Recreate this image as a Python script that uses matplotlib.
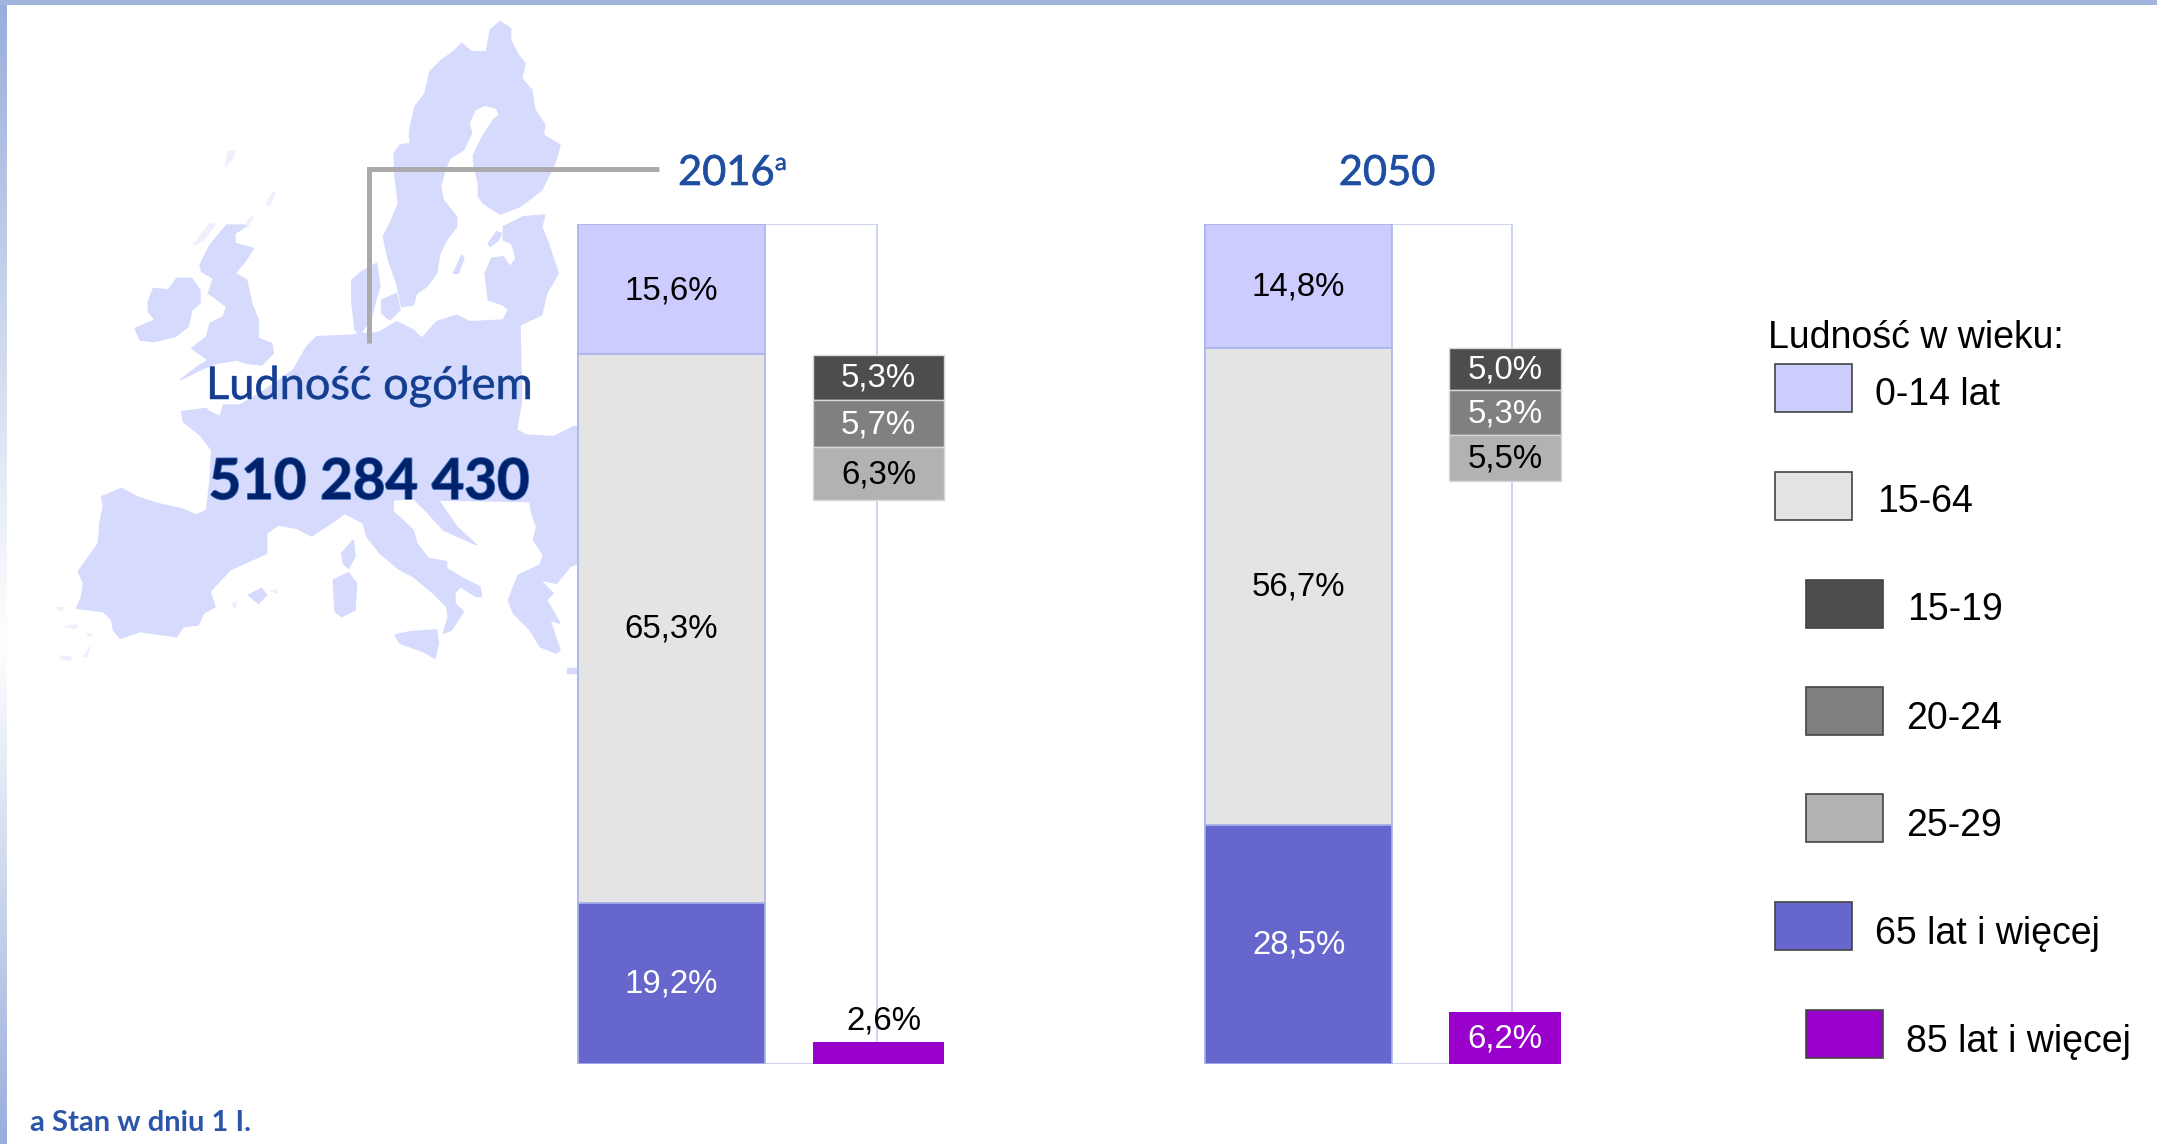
import numpy as np
import matplotlib
matplotlib.use("Agg")
from matplotlib import pyplot as plt
from matplotlib import patheffects as pe
from matplotlib.patches import Polygon, Rectangle

W, H = 2157, 1144

years = ['2016', '2050']
young = [15.6, 14.8]    # 0-14
working = [65.3, 56.7]  # 15-64
old = [19.2, 28.5]      # 65+
age15_19 = [5.3, 5.0]
age20_24 = [5.7, 5.3]
age25_29 = [6.3, 5.5]
age85 = [2.6, 6.2]

legend_labels = ['0-14 lat', '15-64', '15-19', '20-24', '25-29', '65 lat i więcej', '85 lat i więcej']
legend_colors = ['#CCCCFF', '#E4E4E4', '#4D4D4D', '#808080', '#B2B2B2', '#6666CC', '#9900CC']


def crop(x0, y0, pts):
    # points were traced on 3x crops of the map, turn them into pixels
    return [(x0 + x / 3, y0 + y / 3) for x, y in pts]


A = (270, 10)
B = (120, 130)
C = (40, 400)
D = (300, 380)

scandinavia = crop(*A, [(660, 60), (690, 35), (722, 55), (722, 90), (745, 135), (765, 160), (755, 205), (785, 240),
                        (795, 300), (825, 345), (820, 375), (870, 405), (855, 460), (815, 540), (750, 590), (690, 612),
                        (640, 580), (625, 560), (625, 520), (612, 470), (610, 435), (640, 375), (670, 330), (688, 315),
                        (680, 295), (645, 285), (615, 300), (597, 340), (605, 370), (580, 420), (540, 445), (525, 480),
                        (512, 530), (520, 570), (560, 620), (560, 650), (530, 690), (510, 730), (500, 790), (470, 830),
                        (440, 850), (430, 885), (395, 890), (380, 820), (355, 750), (340, 680), (360, 640), (385, 580),
                        (375, 500), (372, 430), (390, 405), (420, 400), (418, 365), (435, 290), (465, 250), (480, 185),
                        (515, 150), (550, 125), (575, 100), (605, 125), (650, 125)])
gotland = crop(*A, [(575, 735), (582, 745), (565, 790), (550, 790)])
baltics = crop(*A, [(700, 650), (760, 620), (825, 615), (815, 650), (835, 700), (865, 790), (830, 850), (815, 915),
                    (750, 945), (700, 930), (715, 900), (700, 885), (655, 870), (645, 790), (665, 745), (700, 740),
                    (720, 770), (738, 745), (725, 700), (700, 690)])
estonia_isl = crop(*A, [(655, 700), (680, 665), (695, 670), (685, 690), (660, 710)])
jutland = crop(*B, [(695, 450), (725, 425), (770, 400), (780, 470), (770, 500), (755, 560), (720, 615), (705, 600), (695, 510)])
zealand = crop(*B, [(785, 510), (830, 490), (840, 540), (810, 570), (785, 550)])
uk = crop(*B, [(320, 285), (385, 285), (345, 310), (345, 340), (400, 355), (375, 395), (345, 430), (380, 450), (395, 520),
               (415, 570), (415, 625), (455, 640), (460, 670), (425, 705), (380, 700), (350, 690), (290, 700), (240, 720),
               (180, 750), (240, 705), (265, 690), (215, 655), (260, 620), (270, 580), (310, 560), (320, 530), (280, 500),
               (265, 490), (280, 445), (245, 425), (240, 405), (270, 345)])
ireland = crop(*B, [(85, 515), (100, 475), (145, 480), (170, 445), (215, 445), (240, 480), (240, 520), (215, 540), (205, 590),
                    (165, 620), (100, 635), (60, 630), (45, 595), (105, 570), (85, 545)])
continent = (crop(*C, [(425, 35), (500, 25), (505, 40)])
             + crop(*B, [(260, 840), (300, 860), (310, 825), (360, 825), (420, 790), (520, 720), (560, 650), (590, 620),
                         (700, 615), (720, 610), (760, 610), (780, 605), (830, 575), (880, 600), (905, 625)])
             + crop(*A, [(500, 935), (560, 915), (600, 935), (700, 930), (750, 945)])
             + crop(*D, [(665, 60), (650, 150), (680, 165), (760, 170), (820, 140), (850, 140), (850, 545), (810, 560),
                         (770, 610), (720, 600), (760, 640), (740, 660), (780, 730), (750, 720), (780, 810), (770, 820),
                         (720, 800), (690, 750), (670, 730), (640, 700), (625, 660), (655, 585), (720, 555), (730, 525),
                         (700, 480), (710, 440), (695, 400), (690, 365), (415, 360), (470, 440), (530, 495), (430, 450),
                         (380, 395), (340, 355), (280, 360), (280, 395), (340, 450), (350, 490), (385, 535), (440, 545),
                         (440, 565), (480, 590), (540, 620), (545, 650), (530, 650), (480, 620), (465, 640), (465, 670),
                         (490, 695), (455, 750), (430, 760), (445, 710), (440, 680), (400, 640), (340, 590), (300, 570),
                         (240, 520), (200, 470), (190, 430), (135, 400)])
             + crop(*C, [(880, 365), (815, 408), (770, 385), (715, 375), (680, 400), (680, 460), (570, 510), (510, 575),
                         (525, 620), (490, 640), (475, 675), (430, 680), (410, 710), (300, 695), (240, 715), (220, 690),
                         (215, 660), (190, 635), (110, 625), (125, 590), (130, 550), (115, 515), (150, 465), (175, 430),
                         (180, 365), (190, 320), (185, 290), (245, 265), (290, 290), (350, 310), (420, 325), (470, 345),
                         (500, 330), (510, 240), (515, 150), (480, 105), (430, 65)]))
sicily = crop(*D, [(285, 765), (330, 755), (410, 750), (415, 790), (405, 835), (370, 815), (300, 790)])
crete = crop(*D, [(800, 865), (840, 865), (840, 880), (800, 880)])
corsica = crop(*C, [(905, 460), (940, 420), (945, 470), (925, 505), (910, 490)])
sardinia = crop(*C, [(880, 540), (925, 518), (950, 550), (945, 630), (905, 650), (885, 635)])
mallorca = crop(*C, [(625, 585), (665, 565), (680, 585), (655, 610)])
map_parts = [scandinavia, baltics, estonia_isl, jutland, zealand, uk, ireland, continent, sicily, crete, corsica,
             sardinia, mallorca, gotland]

# small islands, barely visible in the reference
faint_parts = [crop(*B, [(220, 345), (270, 280), (285, 285), (250, 330)]),
               crop(*B, [(315, 110), (325, 65), (345, 65), (335, 90)]),
               crop(*B, [(375, 285), (395, 260), (400, 265), (385, 285)]),
               crop(*B, [(440, 220), (460, 185), (465, 190), (450, 225)]),
               crop(*C, [(690, 570), (710, 570), (710, 580)]),
               crop(*C, [(575, 610), (590, 605), (585, 625)]),
               crop(*C, [(45, 620), (65, 620), (65, 630)]),
               crop(*C, [(130, 770), (150, 740), (140, 770)]),
               crop(*C, [(60, 768), (90, 770), (95, 780), (65, 778)]),
               crop(*C, [(75, 680), (110, 675), (110, 685)]),
               crop(*C, [(140, 702), (158, 702), (150, 708)])]

bar_x = [671.5, 1298.5]   # centre of the main bar
frame_right = [877, 1512]
inset_x = [878.5, 1505]
inset_w = [131, 112]
bar_w = 187
legend_x = [1775, 1775, 1806, 1806, 1806, 1775, 1806]
legend_y = [364, 472, 580, 687, 794, 902, 1010]
legend_tx = [1875, 1877, 1907, 1906, 1906, 1875, 1906]
legend_ty = [405, 512, 620, 729, 836, 944, 1052]


def pct(v):
    return f'{v:.1f}%'.replace('.', ',')


def halo(color, width=0.7):
    return [pe.withStroke(linewidth=width, foreground=color)]


fig = plt.figure(figsize=(W / 100, H / 100), dpi=100)
plt.rcParams['font.family'] = 'Liberation Sans'

# background layer in pixel coordinates
bg = fig.add_axes([0, 0, 1, 1])
bg.axis('off')

# left border fades to white around the middle and comes back at the bottom
rows = np.linspace(0, H, 256)
fade = np.where(rows < 640, (640 - rows) / 640, (rows - 640) / (H - 640))[:, None, None]
edge = np.array([152, 174, 219]).reshape(1, 1, 3) / 255
strip = 1 - (1 - edge) * fade
bg.imshow(strip, extent=[0, 7, H, 0], aspect='auto', zorder=5)
bg.add_patch(Rectangle((0, 0), W, 5, fc='#A0B4DC', ec='none', zorder=5))
bg.set_xlim(0, W)
bg.set_ylim(H, 0)

for part in map_parts:
    bg.add_patch(Polygon(part, closed=True, fc='#D6DBFD', ec='#D6DBFD', lw=1, zorder=1))
for part in faint_parts:
    bg.add_patch(Polygon(part, closed=True, fc='#EEF0FE', ec='#EEF0FE', lw=1, zorder=1))

bg.plot([369, 369, 659], [343, 169, 169], color='#ABA9A9', lw=3.6, solid_joinstyle='miter', solid_capstyle='butt', zorder=2)
bg.text(369, 399, 'Ludność ogółem', family='Lato', fontsize=32.5, color='#153E8E', ha='center', va='baseline', zorder=3,
        path_effects=halo('#4C78C4', 0.5))
bg.text(369, 499, '510 284 430', family='Lato', fontweight='bold', fontsize=40.5, color='#00226B', ha='center', va='baseline', zorder=3,
        path_effects=halo('#3F6FBF', 1.2))
bg.text(678, 185, years[0], family='Lato', fontsize=30, color='#1F4E9F', ha='left', va='baseline', zorder=3,
        path_effects=halo('#2F62B8', 0.5))
bg.text(775, 170, 'a', family='Lato', fontsize=17, color='#1F4E9F', ha='left', va='baseline', zorder=3,
        path_effects=halo('#2F62B8', 0.4))
bg.text(1387, 185, years[1], family='Lato', fontsize=30, color='#1F4E9F', ha='center', va='baseline', zorder=3,
        path_effects=halo('#2F62B8', 0.5))
bg.text(30, 1131, 'a Stan w dniu 1 I.', family='Lato', fontweight='bold', fontsize=21, color='#2A55A8', ha='left', va='baseline', zorder=3)

# bars: y axis runs 0-100 %, pixel rows 1064 to 224
ax = fig.add_axes([0, 1 - 1064 / H, 1, 840 / H])
ax.set_xlim(0, W)
ax.set_ylim(0, 100)
ax.axis('off')
ax.patch.set_alpha(0)

fs = 23.8
nudge = 0.12
for i in range(2):
    left = bar_x[i] - bar_w / 2
    # thin frame around the whole column
    ax.bar(left, 100, width=frame_right[i] - left, align='edge', color='white', edgecolor='#C5CDEE', linewidth=1.2, zorder=1)
    ax.bar(bar_x[i], young[i], bottom=100 - young[i], width=bar_w, color=legend_colors[0], edgecolor='#A9B3EC', linewidth=1.2, zorder=2)
    ax.bar(bar_x[i], working[i], bottom=old[i], width=bar_w, color=legend_colors[1], edgecolor='#A9B3EC', linewidth=1.2, zorder=2)
    ax.bar(bar_x[i], old[i], width=bar_w, color=legend_colors[5], edgecolor='#A9B3EC', linewidth=1.2, zorder=2)
    ax.text(bar_x[i], 100 - young[i] / 2 - nudge, pct(young[i]), fontsize=fs, color='black', ha='center', va='center', zorder=4)
    ax.text(bar_x[i], old[i] + working[i] / 2 - nudge, pct(working[i]), fontsize=fs, color='black', ha='center', va='center', zorder=4)
    ax.text(bar_x[i], old[i] / 2 - nudge, pct(old[i]), fontsize=fs, color='white', ha='center', va='center', zorder=4)

    top = 100 - young[i]
    for vals, col, tc in [(age15_19, legend_colors[2], 'white'), (age20_24, legend_colors[3], 'white'), (age25_29, legend_colors[4], 'black')]:
        ax.bar(inset_x[i], vals[i], bottom=top - vals[i], width=inset_w[i], color=col, edgecolor='#D8D8D8', linewidth=1, zorder=3)
        ax.text(inset_x[i], top - vals[i] / 2 - nudge, pct(vals[i]), fontsize=fs, color=tc, ha='center', va='center', zorder=4)
        top -= vals[i]

    ax.bar(inset_x[i], age85[i], width=inset_w[i], color=legend_colors[6], edgecolor='none', zorder=3)

ax.text(884, age85[0] + 0.7, pct(age85[0]), fontsize=fs, color='black', ha='center', va='bottom', zorder=4)
ax.text(inset_x[1], age85[1] / 2 - nudge, pct(age85[1]), fontsize=fs, color='white', ha='center', va='center', zorder=4)

# legend
bg.text(1768, 348, 'Ludność w wieku:', fontsize=27, color='black', ha='left', va='baseline', zorder=3)
for i in range(len(legend_labels)):
    bg.add_patch(Rectangle((legend_x[i], legend_y[i]), 77, 48, fc=legend_colors[i], ec='#444444', lw=1.2, zorder=3))
    bg.text(legend_tx[i], legend_ty[i], legend_labels[i], fontsize=27, color='black', ha='left', va='baseline', zorder=3)

fig.savefig('out.png', dpi=100)
